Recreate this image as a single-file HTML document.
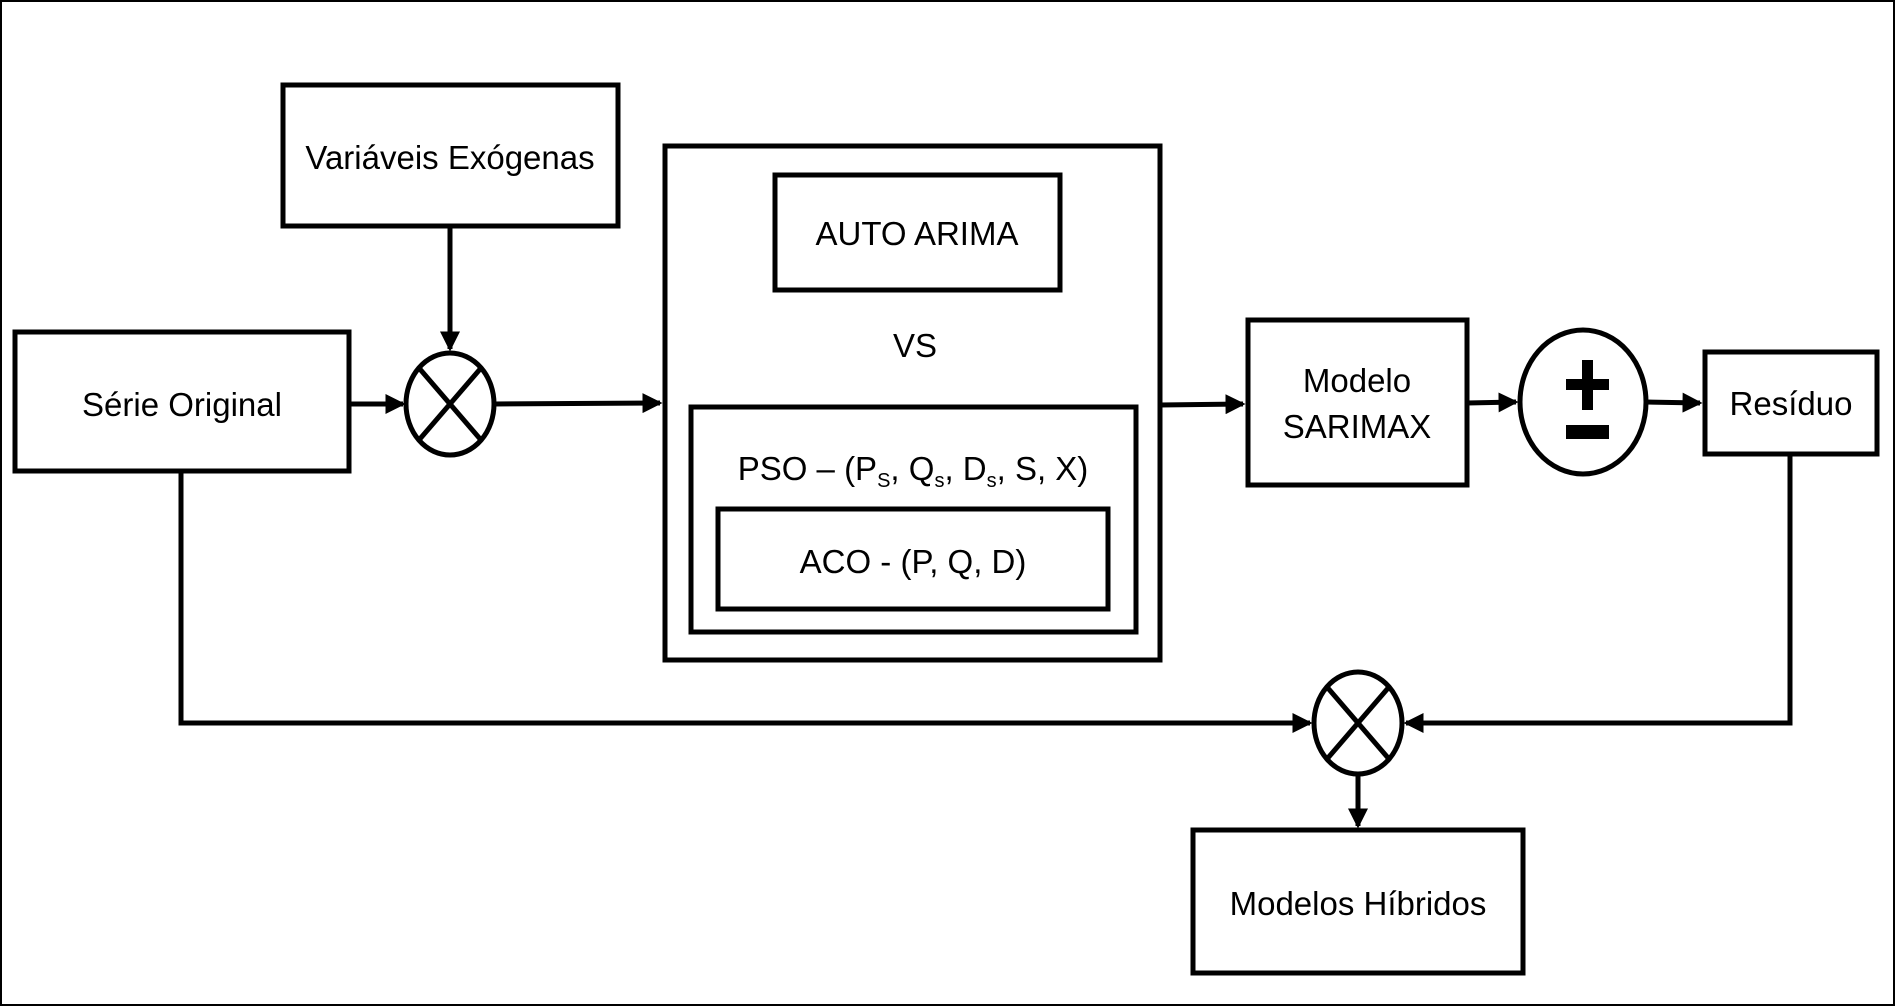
<!DOCTYPE html>
<html><head><meta charset="utf-8"><style>
html,body{margin:0;padding:0;background:#fff}
svg{display:block}
text{font-family:"Liberation Sans",Arial,sans-serif;font-size:33px;fill:#000}
</style></head><body>
<svg width="1895" height="1006" viewBox="0 0 1895 1006" xmlns="http://www.w3.org/2000/svg">
<defs>
<marker id="a" markerWidth="4" markerHeight="4" refX="3.5" refY="2" orient="auto" markerUnits="strokeWidth">
<path d="M0,0 L4,2 L0,4 z" fill="#000"/></marker>
</defs>
<rect x="1" y="1" width="1893" height="1004" fill="#fff" stroke="#000" stroke-width="2"/>
<g fill="none" stroke="#000" stroke-width="5">
<rect x="283" y="85" width="335" height="141"/>
<rect x="15" y="332" width="334" height="139"/>
<ellipse cx="450" cy="404" rx="44" ry="51"/>
<line x1="419" y1="368" x2="481" y2="440"/><line x1="481" y1="368" x2="419" y2="440"/>
<rect x="665" y="146" width="495" height="514"/>
<rect x="775" y="175" width="285" height="115"/>
<rect x="691" y="407" width="445" height="225"/>
<rect x="718" y="509" width="390" height="100"/>
<rect x="1248" y="320" width="219" height="165"/>
<ellipse cx="1583" cy="402" rx="63" ry="72"/>
<rect x="1705" y="352" width="172" height="102"/>
<ellipse cx="1358" cy="723" rx="44" ry="51"/>
<line x1="1327" y1="687" x2="1389" y2="759"/><line x1="1389" y1="687" x2="1327" y2="759"/>
<rect x="1193" y="830" width="330" height="143"/>
<line x1="450" y1="226" x2="450" y2="349" marker-end="url(#a)"/>
<line x1="349" y1="404" x2="403" y2="404" marker-end="url(#a)"/>
<line x1="494" y1="404" x2="660" y2="403" marker-end="url(#a)"/>
<line x1="1160" y1="405" x2="1243" y2="404" marker-end="url(#a)"/>
<line x1="1467" y1="403" x2="1516" y2="402" marker-end="url(#a)"/>
<line x1="1646" y1="402" x2="1700" y2="403" marker-end="url(#a)"/>
<polyline points="181,471 181,723 1310,723" marker-end="url(#a)"/>
<polyline points="1790,454 1790,723 1406,723" marker-end="url(#a)"/>
<line x1="1358" y1="774" x2="1358" y2="826" marker-end="url(#a)"/>
</g>
<rect x="1582" y="360" width="11" height="50" fill="#000"/>
<rect x="1566" y="379" width="43" height="11" fill="#000"/>
<rect x="1566" y="425" width="43" height="14" fill="#000"/>
<g text-anchor="middle">
<text x="450" y="169">Variáveis Exógenas</text>
<text x="182" y="416">Série Original</text>
<text x="917" y="245">AUTO ARIMA</text>
<text x="915" y="357">VS</text>
<text x="913" y="480">PSO – (P<tspan font-size="20" dy="7">S</tspan><tspan dy="-7">, Q</tspan><tspan font-size="20" dy="7">s</tspan><tspan dy="-7">, D</tspan><tspan font-size="20" dy="7">s</tspan><tspan dy="-7">, S, X)</tspan></text>
<text x="913" y="573">ACO - (P, Q, D)</text>
<text x="1357" y="392">Modelo</text>
<text x="1357" y="438">SARIMAX</text>
<text x="1791" y="415">Resíduo</text>
<text x="1358" y="915">Modelos Híbridos</text>
</g>
</svg>
</body></html>
